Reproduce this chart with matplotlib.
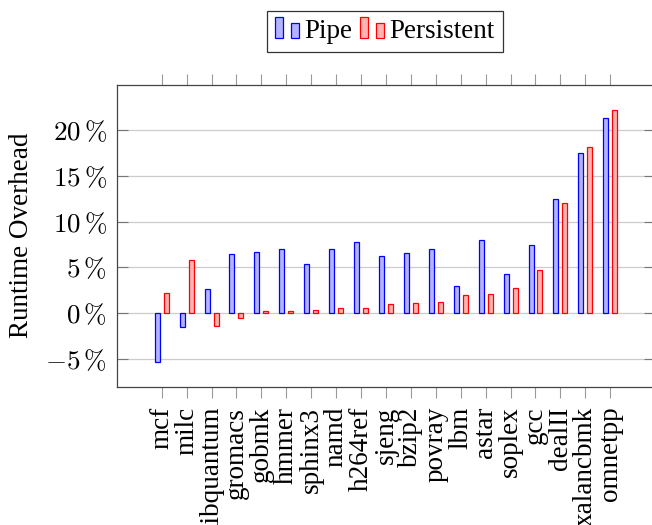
import matplotlib
matplotlib.use("Agg")
import matplotlib.pyplot as plt
import numpy as np
from matplotlib.legend_handler import HandlerBase
from matplotlib.patches import Rectangle

benchmarks = ["mcf", "milc", "libquantum", "gromacs", "gobmk", "hmmer", "sphinx3",
              "namd", "h264ref", "sjeng", "bzip2", "povray", "lbm", "astar",
              "soplex", "gcc", "dealII", "xalancbmk", "omnetpp"]
pipe = [-5.4, -1.57, 2.62, 6.52, 6.67, 7.0, 5.43, 7.07, 7.8, 6.27, 6.56, 7.0,
        2.95, 7.98, 4.27, 7.47, 12.47, 17.5, 21.4]
persistent = [2.19, 5.83, -1.43, -0.55, 0.25, 0.25, 0.32, 0.54, 0.58, 1.02, 1.09,
              1.2, 2.0, 2.08, 2.73, 4.77, 12.1, 18.23, 22.2]
yticks = [-5, 0, 5, 10, 15, 20]
series_names = ["Pipe", "Persistent"]

plt.rcParams['font.family'] = ['Liberation Serif', 'DejaVu Serif']
plt.rcParams['mathtext.fontset'] = 'cm'
FS = 19.5

fig = plt.figure(figsize=(6.52, 5.25), dpi=100)
ax = fig.add_axes([0.179, 0.2623, 0.826, 0.5758])

x = np.arange(len(benchmarks))
bw = 0.2
off = 0.18
blue_fc = (0.7, 0.7, 1.0)
red_fc = (1.0, 0.7, 0.7)
b1 = ax.bar(x - off, pipe, bw, facecolor=blue_fc, edgecolor='#0000ff', linewidth=0.9, zorder=3,
            label=series_names[0])
b2 = ax.bar(x + off, persistent, bw, facecolor=red_fc, edgecolor='#ff0000', linewidth=0.9, zorder=3,
            label=series_names[1])

ax.set_xlim(-1.806, len(benchmarks) - 1 + 1.806)
ax.set_ylim(-8.12, 24.97)
ax.set_yticks(yticks)
ax.set_yticklabels([r"$%d\,\%%$" % v for v in yticks], fontsize=FS)
ax.set_xticks(x)
ax.set_xticklabels(benchmarks, rotation=90, fontsize=FS)

ax.tick_params(axis='x', direction='out', length=8, width=0.8, color='#999999', top=True,
               bottom=True, pad=6)
ax.tick_params(axis='y', direction='in', length=8, width=0.8, color='#777777', left=True,
               right=True, pad=7)
ax.yaxis.grid(True, color='#cccccc', linewidth=0.9, zorder=0)
ax.set_axisbelow(True)
for s in ax.spines.values():
    s.set_color('#444444')
    s.set_linewidth(0.9)

fig.text(21.5 / 652, 1 - 235.5 / 525, "Runtime Overhead", rotation=90, ha='center',
         va='center', fontsize=FS)


class TwoBarHandler(HandlerBase):
    def create_artists(self, legend, orig_handle, xdescent, ydescent, width, height,
                       fontsize, trans):
        fc = orig_handle.patches[0].get_facecolor()
        ec = orig_handle.patches[0].get_edgecolor()
        w = width / 3.0
        y0 = -ydescent
        r1 = Rectangle((-xdescent, y0), w, height * 1.1, facecolor=fc, edgecolor=ec,
                       linewidth=0.9, transform=trans)
        r2 = Rectangle((-xdescent + width * 2.0 / 3.0, y0), w, height * 0.79, facecolor=fc,
                       edgecolor=ec, linewidth=0.9, transform=trans)
        return [r1, r2]


leg = fig.legend([b1, b2], series_names, loc='center', bbox_to_anchor=(0.5903, 0.94),
                 ncol=2, fontsize=FS, frameon=True, fancybox=False, edgecolor='black',
                 handlelength=0.89, handletextpad=0.2, columnspacing=0.26, borderpad=0.3,
                 handler_map={type(b1): TwoBarHandler()})
leg.get_frame().set_linewidth(0.9)

fig.savefig("out.png", dpi=100)
